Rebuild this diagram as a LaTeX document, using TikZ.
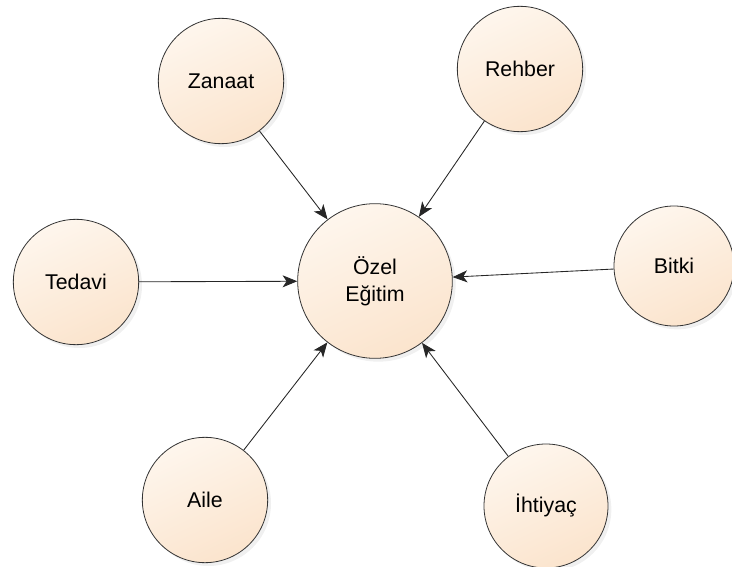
\documentclass[tikz,border=0pt]{standalone}
\usepackage{fontspec}
\setmainfont{Liberation Sans}
\usepackage{tikz}
\usetikzlibrary{arrows.meta, shadows}
\definecolor{peachlight}{RGB}{254,246,237}
\definecolor{peachdark}{RGB}{251,228,205}
\tikzset{bubble/.style={circle,draw=black!80,line width=0.6pt,top color=peachlight,bottom color=peachdark,shading angle=25,minimum size=94pt,inner sep=0pt,align=center,drop shadow={opacity=0.12,shadow xshift=2.5pt,shadow yshift=-2.5pt}}}
\tikzset{feed/.style={draw=black!85,line width=0.65pt,-{Stealth[length=11pt,width=9pt,inset=3pt]}}}

\begin{document}
\begin{tikzpicture}[x=0.75pt,y=-0.75pt,font=\fontsize{16}{20}\selectfont] % pixel grid, y grows downwards
  \useasboundingbox (0,0) rectangle (732,567);

  \node[bubble,minimum size=116pt] (ozel) at (375,281) {Özel\\Eğitim};

  \node[bubble] (zanaat) at (221,81) {Zanaat};
  \node[bubble] (rehber) at (520,69) {Rehber};
  \node[bubble] (tedavi) at (76,282) {Tedavi};
  \node[bubble,minimum size=90pt] (bitki) at (674,266) {Bitki};
  \node[bubble] (aile) at (205,500) {Aile};
  \node[bubble,minimum size=93pt] (ihtiyac) at (546,506) {İhtiyaç};

  \draw[feed] (zanaat) -- (ozel);
  \draw[feed] (rehber) -- (ozel);
  \draw[feed] (tedavi) -- (ozel);
  \draw[feed] (bitki) -- (ozel);
  \draw[feed] (aile) -- (ozel);
  \draw[feed] (ihtiyac) -- (ozel);
\end{tikzpicture}
\end{document}
